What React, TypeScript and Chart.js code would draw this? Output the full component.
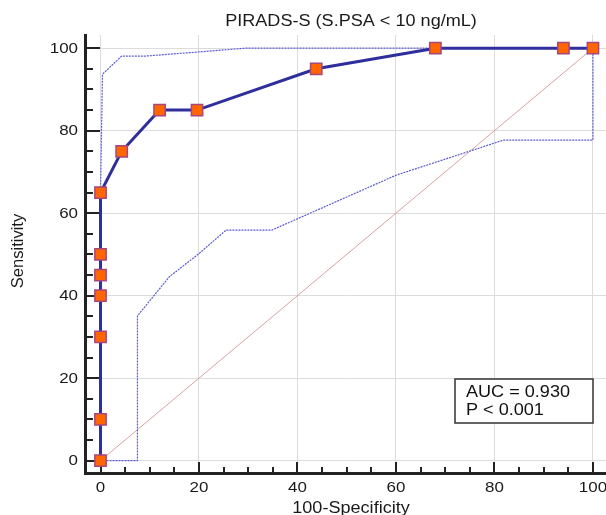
import React, { useEffect, useRef } from "react";
import { Chart, registerables } from "chart.js";

Chart.register(...registerables);

const titleText = "PIRADS-S (S.PSA < 10 ng/mL)";
const xAxisTitle = "100-Specificity";
const yAxisTitle = "Sensitivity";
const legendLines = ["AUC = 0.930", "P < 0.001"];

const tickValues = [0, 20, 40, 60, 80, 100];
const tickLabels = ["0", "20", "40", "60", "80", "100"];
const minorStep = 5;

const rocX = [0, 0, 0, 0, 0, 0, 0, 4.3, 12, 19.6, 43.8, 68, 94, 100];
const rocY = [0, 10, 30, 40, 45, 50, 65, 75, 85, 85, 95, 100, 100, 100];

const upperX = [0, 0, 0.4, 4.3, 9.2, 20, 29.5, 100];
const upperY = [0, 65, 93.7, 98.1, 98.1, 99.1, 100, 100];

const lowerX = [0, 7.5, 7.5, 14, 20, 25.5, 34.8, 60, 81.8, 100, 100];
const lowerY = [0, 0, 35.1, 44.6, 50.2, 55.9, 55.9, 69.2, 77.7, 77.7, 100];

const diagX = [0, 100];
const diagY = [0, 100];

const toPts = (xs: number[], ys: number[]) => xs.map((x, i) => ({ x, y: ys[i] }));

const FONT = "'Liberation Sans', Arial, sans-serif";
const SX = 1.13;

function drawText(
  ctx: CanvasRenderingContext2D,
  text: string,
  x: number,
  y: number,
  size: number,
  align: CanvasTextAlign,
  baseline: CanvasTextBaseline,
  sx: number = SX
) {
  ctx.save();
  ctx.translate(x, y);
  ctx.scale(sx, 1);
  ctx.font = `${size}px ${FONT}`;
  ctx.textAlign = align;
  ctx.textBaseline = baseline;
  ctx.fillText(text, 0, 0);
  ctx.restore();
}

const overlayPlugin = {
  id: "overlay",
  beforeDatasetsDraw(chart: any) {
    const { ctx, scales } = chart;
    const xs = scales.x;
    const ys = scales.y;
    const area = chart.chartArea;
    ctx.save();
    ctx.strokeStyle = "#222";
    ctx.lineWidth = 2;
    for (let v = 0; v <= 100; v += minorStep) {
      const major = v % 20 === 0;
      const px = Math.round(xs.getPixelForValue(v));
      const lenX = major ? 11 : 6;
      ctx.beginPath();
      ctx.moveTo(px, area.bottom);
      ctx.lineTo(px, area.bottom - lenX);
      ctx.stroke();
      const py = Math.round(ys.getPixelForValue(v));
      const lenY = major ? 15 : 8;
      ctx.beginPath();
      ctx.moveTo(area.left, py);
      ctx.lineTo(area.left + lenY, py);
      ctx.stroke();
    }
    ctx.restore();
  },
  afterDraw(chart: any) {
    const { ctx, scales } = chart;
    const xs = scales.x;
    const ys = scales.y;
    ctx.save();
    ctx.fillStyle = "#1a1a1a";

    tickValues.forEach((v, i) => {
      drawText(ctx, tickLabels[i], xs.getPixelForValue(v), 487.5, 15, "center", "middle");
      drawText(ctx, tickLabels[i], 78, ys.getPixelForValue(v) + 0.5, 15, "right", "middle");
    });

    drawText(ctx, titleText, 351, 22, 16, "center", "middle");
    drawText(ctx, xAxisTitle, 351, 513, 16, "center", "alphabetic");

    ctx.save();
    ctx.translate(18, 251);
    ctx.rotate(-Math.PI / 2);
    ctx.font = `16.5px ${FONT}`;
    ctx.textAlign = "center";
    ctx.textBaseline = "middle";
    ctx.fillText(yAxisTitle, 0, 0);
    ctx.restore();

    // AUC box
    ctx.fillStyle = "#ffffff";
    ctx.fillRect(455, 379, 138, 44);
    ctx.strokeStyle = "#333";
    ctx.lineWidth = 1.5;
    ctx.strokeRect(455, 379, 138, 44);
    ctx.fillStyle = "#111";
    drawText(ctx, legendLines[0], 466, 396.5, 16, "left", "alphabetic");
    drawText(ctx, legendLines[1], 466, 415, 16, "left", "alphabetic");
    ctx.restore();
  },
};

export default function App() {
  const ref = useRef<HTMLCanvasElement>(null);
  useEffect(() => {
    document.body.style.margin = "0";
    document.body.style.overflow = "hidden";
    const canvas = ref.current;
    if (!canvas) return;
    const setTicks = (scale: any) => {
      scale.ticks = tickValues.map((v) => ({ value: v }));
    };
    const chart = new Chart(canvas, {
      type: "scatter",
      data: {
        datasets: [
          {
            data: toPts(rocX, rocY),
            showLine: true,
            borderColor: "#2e2e9c",
            borderWidth: 3,
            pointStyle: "rect",
            pointRadius: 8,
            pointBackgroundColor: "#ff6600",
            pointBorderColor: "#a8467e",
            pointBorderWidth: 1.5,
            tension: 0,
          },
          {
            data: toPts(upperX, upperY),
            showLine: true,
            borderColor: "#5b5bd0",
            borderWidth: 1.2,
            borderDash: [2, 1],
            pointRadius: 0,
          },
          {
            data: toPts(lowerX, lowerY),
            showLine: true,
            borderColor: "#5b5bd0",
            borderWidth: 1.2,
            borderDash: [2, 1],
            pointRadius: 0,
          },
          {
            data: toPts(diagX, diagY),
            showLine: true,
            borderColor: "#d9a2a2",
            borderWidth: 1,
            pointRadius: 0,
          },
        ],
      },
      options: {
        animation: false,
        responsive: false,
        devicePixelRatio: 1,
        layout: { autoPadding: false, padding: { top: 35, right: 0, left: 0, bottom: 0 } },
        plugins: {
          legend: { display: false },
          title: { display: false },
          tooltip: { enabled: false },
        },
        scales: {
          x: {
            type: "linear",
            min: -3.15,
            max: 102.65,
            afterBuildTicks: setTicks,
            afterFit: (s: any) => {
              s.height = 42;
              s.paddingLeft = 0;
              s.paddingRight = 0;
            },
            grid: { color: "#dcdcdc", lineWidth: 1, drawTicks: false },
            border: { color: "#222", width: 3 },
            ticks: { display: false },
          },
          y: {
            type: "linear",
            min: -3.0,
            max: 103.2,
            afterBuildTicks: setTicks,
            afterFit: (s: any) => {
              s.width = 85;
              s.paddingTop = 0;
              s.paddingBottom = 0;
            },
            grid: { color: "#dcdcdc", lineWidth: 1, drawTicks: false },
            border: { color: "#222", width: 3 },
            ticks: { display: false },
          },
        },
      },
      plugins: [overlayPlugin],
    });
    return () => chart.destroy();
  }, []);
  return (
    <div style={{ width: 606, height: 515, background: "#fff" }}>
      <canvas ref={ref} width={606} height={515} />
    </div>
  );
}
